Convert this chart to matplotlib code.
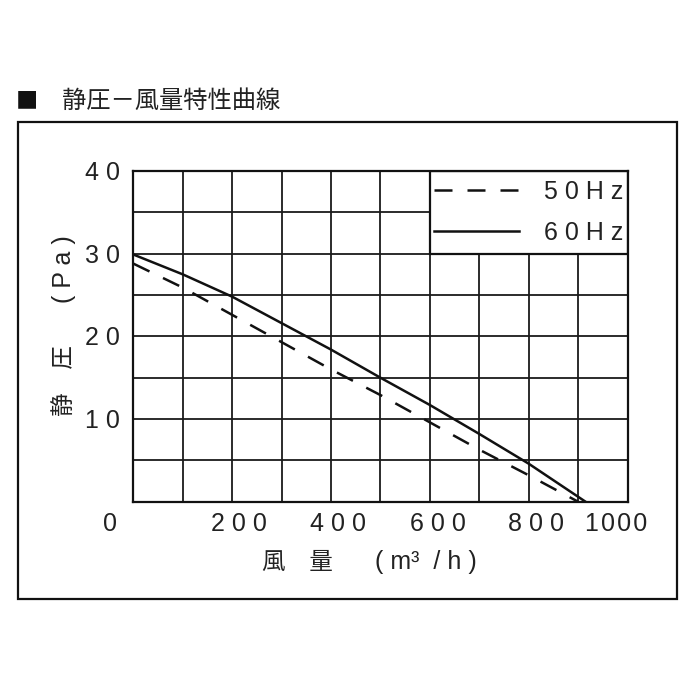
import numpy as np
import matplotlib
matplotlib.use("Agg")
import matplotlib.pyplot as plt
from matplotlib.patches import Rectangle
from matplotlib.transforms import offset_copy

# static pressure vs air volume
q_50hz = [0, 100, 200, 300, 400, 500, 600, 700, 800, 900]
p_50hz = [28.8, 25.9, 22.6, 19.3, 16.0, 12.9, 9.6, 6.3, 3.2, 0.0]
q_60hz = [0, 100, 200, 300, 400, 500, 600, 700, 800, 915]
p_60hz = [29.9, 27.5, 24.8, 21.6, 18.4, 15.0, 11.7, 8.2, 4.6, 0.0]

x_tick_vals = [0, 200, 400, 600, 800, 1000]
x_tick_labels = ['0', '2 0 0', '4 0 0', '6 0 0', '8 0 0', '1\u200a0\u200a0\u200a0']
y_tick_vals = [10, 20, 30, 40]
y_tick_labels = ['1 0', '2 0', '3 0', '4 0']
legend_labels = ['5 0 H z', '6 0 H z']

title = '静圧－風量特性曲線'
x_name, x_unit = '風　量', '( m³  / h )'
y_name, y_unit = '静　圧', '( P a )'

LAT = ['Liberation Sans', 'DejaVu Sans']
CJK = ['Noto Sans CJK JP', 'DejaVu Sans']
NUM_SIZE = 18
W = H = 700


def fx(px):
    return px / W


def fy(py):
    return 1 - py / H


fig = plt.figure(figsize=(7, 7), dpi=100)
ax = fig.add_axes([fx(133.3), fy(501.7), (627.5 - 133.3) / W, (501.7 - 171) / H])

# outer frame
fig.add_artist(Rectangle((fx(17.7), fy(599)), (676.7 - 17.7) / W, (599 - 122.3) / H,
                         transform=fig.transFigure, fill=False, lw=1.6, ec='#111'))

ax.set_xlim(0, 1000)
ax.set_ylim(0, 40)
ax.set_xticks(np.arange(0, 1001, 100))
ax.set_yticks(np.arange(0, 41, 5))
ax.tick_params(length=0, labelbottom=False, labelleft=False)
ax.grid(True, color='#1a1a1a', lw=1.3)
for s in ax.spines.values():
    s.set_linewidth(1.6)
    s.set_color('#111')

dash = (0, (7.2, 6))
ax.plot(q_50hz, p_50hz, color='#111', lw=1.8, ls=dash, zorder=3, label=legend_labels[0])
ax.plot(q_60hz, p_60hz, color='#111', lw=1.8, ls='-', zorder=3, label=legend_labels[1])

# legend box sits on the grid, top right cell block
ax.add_patch(Rectangle((0.6, 0.75), 0.4, 0.25, transform=ax.transAxes,
                       fc='white', ec='#111', lw=1.6, zorder=2.5))
leg = ax.legend(loc='center', bbox_to_anchor=(0.6, 0.75, 0.4, 0.25), frameon=False,
                prop={'family': LAT, 'size': NUM_SIZE}, handlelength=3.4,
                handletextpad=1.0, labelspacing=0.66, borderpad=0)
leg.set_zorder(4)
for t in leg.get_texts():
    t.set_color('#222')

# tick labels
x_nudge = [-23, 7, 7, 8, 7, -11.5]
for v, lab, dx in zip(x_tick_vals, x_tick_labels, x_nudge):
    tr = offset_copy(ax.get_xaxis_transform(), fig=fig, x=dx, y=-22.3, units='dots')
    ax.text(v, 0, lab, transform=tr, ha='center', va='center',
            family=LAT, fontsize=NUM_SIZE, color='#222')
for v, lab in zip(y_tick_vals, y_tick_labels):
    tr = offset_copy(ax.get_yaxis_transform(), fig=fig, x=-13, y=-2, units='dots')
    ax.text(0, v, lab, transform=tr, ha='right', va='center',
            family=LAT, fontsize=NUM_SIZE, color='#222')

# axis names
fig.text(fx(297.7), fy(562), x_name, ha='center', va='center', family=CJK, fontsize=17, color='#222')
fig.text(fx(426), fy(562), x_unit, ha='center', va='center', family=LAT,
         fontsize=NUM_SIZE, color='#222')
fig.text(fx(64), fy(381), y_name, ha='center', va='center', rotation=90,
         family=CJK, fontsize=17, color='#222')
fig.text(fx(64), fy(269), y_unit, ha='center', va='center', rotation=90,
         family=LAT, fontsize=NUM_SIZE, color='#222')

# heading
fig.text(fx(16), fy(101), '■', ha='left', va='center', family=CJK, fontsize=16, color='#111')
fig.text(fx(62), fy(101), title, ha='left', va='center', family=CJK, fontsize=17.5, color='#222')

fig.savefig('out.png', dpi=100, facecolor='white')
